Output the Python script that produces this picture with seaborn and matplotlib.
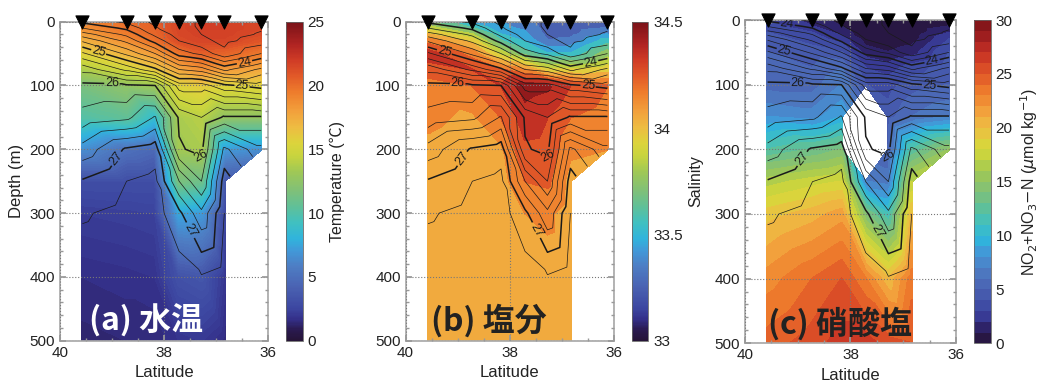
import numpy as np
import matplotlib
matplotlib.use("Agg")
import matplotlib.pyplot as plt
import matplotlib.cm as cm
import matplotlib.colors as mcolors
from matplotlib.ticker import MultipleLocator
from matplotlib.tri import Triangulation
import seaborn as sns

sns.set_theme(style="ticks")
plt.rcParams.update({
    'font.family': ['Liberation Sans', 'Noto Sans CJK JP', 'DejaVu Sans'],
    'axes.labelsize': 12,
    'xtick.labelsize': 11,
    'ytick.labelsize': 11,
    'axes.edgecolor': '#999999',
    'xtick.color': '#999999',
    'ytick.color': '#999999',
    'xtick.labelcolor': '#222222',
    'ytick.labelcolor': '#222222',
})

nan = np.nan

# station latitudes (left -> right) and sample depths
LAT = [39.57, 38.72, 38.17, 37.71, 37.28, 36.84, 36.13]
DEPTH = [0, 10, 20, 30, 50, 75, 100, 150, 200, 250, 300, 400, 500]

# potential density (sigma-theta), one row per station
SIGMA = [
    [23.95, 24.20, 24.50, 24.77, 25.24, 25.74, 26.05, 26.27, 26.68, 27.02, 27.18, 27.30, 27.36],
    [23.75, 23.95, 24.15, 24.35, 24.75, 25.35, 26.03, 26.35, 27.03, 27.20, 27.26, 27.33, 27.38],
    [23.55, 23.62, 23.75, 23.92, 24.40, 25.05, 26.00, 26.62, 27.12, 27.25, 27.29, 27.34, 27.38],
    [23.45, 23.47, 23.52, 23.60, 23.90, 24.60, 25.30, 25.97, 26.02, 26.60, 27.05, 27.30, 27.35],
    [23.38, 23.38, 23.40, 23.45, 23.75, 24.50, 25.30, 25.80, 25.95, 26.20, 26.65, 27.22, 27.33],
    [23.30, 23.30, 23.32, 23.35, 23.45, 24.15, 25.05, 26.03, 26.85, 27.10, 27.20, 27.30, 27.36],
    [23.35, 23.38, 23.42, 23.50, 23.80, 24.45, 24.90, 26.03, 26.45, nan, nan, nan, nan],
]

# temperature (deg C)
TEMP = [
    [19.0, 18.5, 17.8, 17.0, 15.5, 13.5, 11.5, 10.0, 6.5, 3.0, 2.2, 1.6, 1.3],
    [20.0, 19.8, 19.3, 18.5, 17.0, 14.8, 12.5, 10.5, 5.0, 3.0, 2.3, 1.7, 1.4],
    [20.5, 20.4, 20.2, 19.8, 18.0, 16.0, 13.0, 8.5, 4.5, 3.0, 2.4, 1.8, 1.4],
    [21.5, 21.5, 21.4, 21.2, 19.5, 17.5, 15.5, 13.5, 13.2, 11.5, 7.5, 3.2, 1.8],
    [21.8, 21.8, 21.7, 21.5, 20.5, 18.5, 16.0, 14.0, 13.5, 11.0, 7.0, 3.5, 2.0],
    [21.8, 21.8, 21.7, 21.5, 20.3, 18.0, 15.5, 12.5, 7.0, 3.6, 2.6, 1.9, 1.5],
    [21.5, 21.4, 21.2, 20.8, 19.5, 17.5, 15.5, 12.5, 6.5, nan, nan, nan, nan],
]

# salinity
SALT = [
    [33.70, 33.85, 34.00, 34.15, 34.35, 34.25, 34.15, 34.12, 34.08, 34.05, 34.04, 34.04, 34.05],
    [33.45, 33.60, 33.80, 33.95, 34.15, 34.30, 34.20, 34.08, 34.05, 34.04, 34.04, 34.04, 34.05],
    [33.40, 33.42, 33.50, 33.60, 33.85, 34.20, 34.30, 34.20, 34.08, 34.05, 34.04, 34.04, 34.05],
    [33.35, 33.38, 33.42, 33.48, 33.65, 34.10, 34.45, 34.35, 34.28, 34.20, 34.10, 34.05, 34.05],
    [33.25, 33.25, 33.27, 33.30, 33.50, 33.90, 34.42, 34.30, 34.27, 34.22, 34.12, 34.06, 34.05],
    [33.25, 33.25, 33.27, 33.32, 33.50, 33.90, 34.30, 34.20, 34.12, 34.06, 34.05, 34.05, 34.05],
    [33.20, 33.30, 33.40, 33.55, 33.75, 33.95, 34.20, 34.15, 34.10, nan, nan, nan, nan],
]

# nitrate + nitrite (umol/kg); missing samples at station 4
NO3 = [
    [3.0, 3.5, 4.0, 4.5, 5.0, 5.0, 5.5, 8.0, 12.0, 16.5, 19.5, 22.5, 24.5],
    [1.5, 2.0, 3.0, 3.5, 4.5, 5.0, 5.5, 7.5, 13.0, 17.5, 20.5, 24.0, 25.5],
    [0.5, 1.0, 1.5, 2.5, 4.0, 6.0, 7.0, 9.0, 14.0, 18.0, 21.5, 25.0, 26.5],
    [0.2, 0.2, 0.3, 0.5, 1.5, 3.0, 4.0, nan, nan, 7.0, 14.0, 23.0, 26.5],
    [0.2, 0.2, 0.2, 0.3, 1.0, 2.5, 3.5, 4.5, 5.0, 6.5, 11.0, 20.0, 25.5],
    [0.2, 0.2, 0.3, 0.5, 1.5, 3.5, 4.5, 6.0, 12.0, 17.0, 20.0, 23.5, 25.0],
    [0.5, 1.0, 2.0, 3.0, 4.0, 4.5, 5.0, 7.0, 15.0, nan, nan, nan, nan],
]

# colour ramp picked off the reference colour bars (position, colour)
RAMP = [(0.00, '#261438'), (0.033, '#2a1a50'), (0.067, '#34308a'),
        (0.10, '#3c46a0'), (0.167, '#4a62b2'), (0.233, '#4e7ec4'),
        (0.28, '#4298d8'), (0.32, '#30b4dc'), (0.37, '#40c0c0'),
        (0.42, '#60c098'), (0.47, '#80c078'), (0.53, '#a0c855'),
        (0.58, '#c8d43e'), (0.62, '#dcd43c'), (0.67, '#eebc42'),
        (0.72, '#f2a03c'), (0.78, '#ee7c2c'), (0.83, '#e25a28'),
        (0.88, '#d03c26'), (0.93, '#b02422'), (1.00, '#7a1218')]
cmap = mcolors.LinearSegmentedColormap.from_list('section', RAMP, N=256)


def make_tri(field):
    """Triangulate the station x depth grid, dropping triangles with missing values."""
    vals = np.array(field, dtype=float)
    nst, nd = vals.shape
    X, Y = np.meshgrid(LAT, DEPTH, indexing='ij')
    bad = np.isnan(vals)
    idx = lambda i, j: i * nd + j
    tris = []
    for i in range(nst - 1):
        for j in range(nd - 1):
            a, b = idx(i, j), idx(i + 1, j)
            c, d = idx(i, j + 1), idx(i + 1, j + 1)
            # pick the diagonal that keeps as much valid area as possible
            if bad[i, j] or bad[i + 1, j + 1]:
                tris += [[a, b, c], [b, c, d]]
            else:
                tris += [[a, b, d], [a, c, d]]
    tris = np.array(tris)
    flat = bad.ravel()
    mask = flat[tris].any(axis=1)
    tri = Triangulation(X.ravel(), Y.ravel(), tris, mask=mask)
    return tri, np.nan_to_num(vals.ravel())


def style_axes(ax):
    ax.set_xlim(40, 36)
    ax.set_ylim(500, 0)
    ax.set_xticks([40, 38, 36])
    ax.set_yticks([0, 100, 200, 300, 400, 500])
    ax.xaxis.set_minor_locator(MultipleLocator(0.5))
    ax.yaxis.set_minor_locator(MultipleLocator(20))
    ax.tick_params(which='both', direction='in', top=True, right=True)
    ax.tick_params(which='major', length=4)
    ax.tick_params(which='minor', length=2.5)
    ax.grid(True, which='major', linestyle=':', color='#777777', linewidth=0.8)
    ax.set_axisbelow(False)
    ax.set_xlabel("Latitude", color='#222222')
    for s in ax.spines.values():
        s.set_color('#aaaaaa')


def add_density(ax, label_pos):
    tri, z = make_tri(SIGMA)
    all_lv = np.round(np.arange(23.0, 27.41, 0.2), 1)
    thin = [lv for lv in all_lv if abs(lv - round(lv)) > 1e-6]
    ax.tricontour(tri, z, levels=thin, colors='k', linewidths=0.5, zorder=3)
    thick = ax.tricontour(tri, z, levels=[24, 25, 26, 27], colors='k',
                          linewidths=1.1, zorder=3)
    ax.clabel(thick, manual=label_pos, fmt='%d', fontsize=9, inline=True,
              inline_spacing=2)


def add_stations(ax):
    sns.scatterplot(x=LAT, y=[0] * len(LAT), ax=ax, marker='v', s=90,
                    color='black', edgecolor='black', clip_on=False,
                    zorder=10, legend=False)


fig = plt.figure(figsize=(10.4, 3.83), dpi=100)

ax_a = fig.add_axes([0.0577, 0.1104, 0.2, 0.833])
cax_a = fig.add_axes([0.275, 0.1104, 0.016, 0.833])
ax_b = fig.add_axes([0.390, 0.1104, 0.2006, 0.833])
cax_b = fig.add_axes([0.6074, 0.1104, 0.016, 0.833])
ax_c = fig.add_axes([0.7163, 0.1037, 0.2029, 0.844])
cax_c = fig.add_axes([0.9365, 0.1037, 0.016, 0.844])

labels_ab = [(39.25, 45), (39.0, 92), (38.95, 212), (36.45, 65),
             (36.5, 100), (37.25, 215), (37.55, 330)]
labels_c = [(39.2, 5)] + labels_ab

cbars = []

# (a) temperature
tri, z = make_tri(TEMP)
cf = ax_a.tricontourf(tri, z, levels=np.linspace(0, 25, 126), cmap=cmap, zorder=1)
cf.set_edgecolor('face')
add_density(ax_a, labels_ab)
style_axes(ax_a)
ax_a.set_ylabel("Depth (m)", color='#222222')
add_stations(ax_a)
ax_a.text(0.14, 0.03, "(a) 水温", transform=ax_a.transAxes, color='white',
          fontsize=23, fontweight='bold', family=['Noto Sans CJK JP'], zorder=12)
sm = cm.ScalarMappable(norm=mcolors.Normalize(0, 25), cmap=cmap)
cb = fig.colorbar(sm, cax=cax_a, ticks=[0, 5, 10, 15, 20, 25])
cb.set_label("Temperature (℃)", fontsize=11.5, color='#222222')
cbars.append(cb)

# (b) salinity
tri, z = make_tri(SALT)
cf = ax_b.tricontourf(tri, z, levels=np.round(np.arange(33.0, 34.51, 0.1), 2),
                      cmap=cmap, zorder=1)
cf.set_edgecolor('face')
add_density(ax_b, labels_ab)
style_axes(ax_b)
add_stations(ax_b)
ax_b.text(0.12, 0.03, "(b) 塩分", transform=ax_b.transAxes, color='#222222',
          fontsize=23, fontweight='bold', family=['Noto Sans CJK JP'], zorder=12)
sm = cm.ScalarMappable(norm=mcolors.Normalize(33, 34.5), cmap=cmap)
cb = fig.colorbar(sm, cax=cax_b, ticks=[33, 33.5, 34, 34.5])
cb.ax.set_yticklabels(['33', '33.5', '34', '34.5'])
cb.set_label("Salinity", fontsize=11.5, color='#222222')
cbars.append(cb)

# (c) nitrate
tri, z = make_tri(NO3)
cf = ax_c.tricontourf(tri, z, levels=np.arange(0, 31, 1), cmap=cmap, zorder=1)
cf.set_edgecolor('face')
add_density(ax_c, labels_c)
style_axes(ax_c)
add_stations(ax_c)
ax_c.text(0.11, 0.03, "(c) 硝酸塩", transform=ax_c.transAxes, color='#222222',
          fontsize=23, fontweight='bold', family=['Noto Sans CJK JP'], zorder=12)
cb = fig.colorbar(cf, cax=cax_c, ticks=[0, 5, 10, 15, 20, 25, 30])
cb.set_label(r"NO$_2$+NO$_3$$-$N ($\mu$mol kg$^{-1}$)", fontsize=11.5, color='#222222')
cbars.append(cb)

for cb in cbars:
    cb.ax.tick_params(length=0, labelsize=11, labelcolor='#222222')
    cb.outline.set_edgecolor('#666666')
    cb.outline.set_linewidth(0.6)

fig.savefig("out.png", dpi=100)
